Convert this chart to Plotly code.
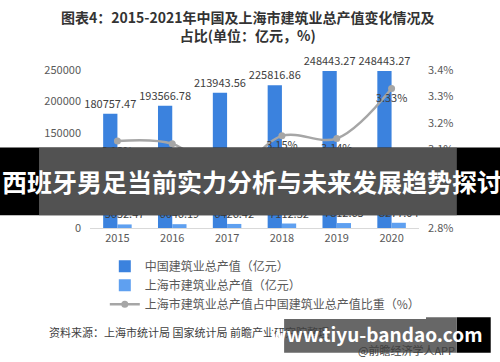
import plotly.graph_objects as go

years = ["2015", "2016", "2017", "2018", "2019", "2020"]
china_values = [180757.47, 193566.78, 213943.56, 225816.86, 248443.27, 248443.27]
shanghai_values = [5652.47, 6046.19, 6426.42, 7112.32, 7812.65, 8277.04]
share_values = [3.13, 3.12, 3.00, 3.15, 3.14, 3.33]

name_china = "中国建筑业总产值（亿元）"
name_sh = "上海市建筑业总产值（亿元）"
name_share = "上海市建筑业总产值占中国建筑业总产值比重（%）"

FONT = "Noto Sans CJK SC"
TXT = "#404040"

fig = go.Figure()
fig.add_trace(go.Bar(
    x=years, y=china_values, name=name_china,
    marker=dict(color="#3B82DE", line=dict(width=0)),
    text=[f"{v:.2f}" for v in china_values], textposition="outside",
    constraintext="none",
    textfont=dict(size=11, color=TXT, family=FONT), cliponaxis=False,
))
fig.add_trace(go.Bar(
    x=years, y=shanghai_values, name=name_sh,
    marker=dict(color="#5FA0F0", line=dict(width=0)),
    text=[f"{v:.2f}" for v in shanghai_values], textposition="outside",
    constraintext="none",
    textfont=dict(size=11, color=TXT, family=FONT), cliponaxis=False,
))
fig.add_trace(go.Scatter(
    x=years, y=share_values, name=name_share, yaxis="y2",
    mode="lines+markers+text",
    line=dict(color="#A6A6A6", width=2.5, shape="spline", smoothing=1.0),
    marker=dict(color="#A6A6A6", size=7),
    text=[f"{v:.2f}%" for v in share_values], textposition="bottom center",
    textfont=dict(size=11, color=TXT, family=FONT), cliponaxis=False,
))

fig.update_layout(
    width=500, height=362,
    margin=dict(l=90, r=81, t=70, b=134),
    paper_bgcolor="white", plot_bgcolor="white",
    font=dict(family=FONT, color="#595959", size=11),
    barmode="group", bargap=0.48, bargroupgap=0,
    showlegend=True,
    legend=dict(orientation="v", x=0.045, xanchor="left", y=-0.15, yanchor="top",
                font=dict(size=12, color="#595959", family=FONT),
                tracegroupgap=2, itemwidth=30),
    xaxis=dict(type="category", showline=True, linecolor="#D9D9D9", linewidth=1,
               ticks="", showgrid=False, tickfont=dict(size=11, color="#595959")),
    yaxis=dict(range=[0, 250000], dtick=50000, tickformat="d", showgrid=False,
               zeroline=False, ticks="", ticklabelstandoff=8,
               tickfont=dict(size=11, color="#595959")),
    yaxis2=dict(range=[2.8, 3.4], dtick=0.1, tickformat=".1f", ticksuffix="%",
                overlaying="y", side="right", showgrid=False, zeroline=False,
                ticks="", ticklabelstandoff=8,
                tickfont=dict(size=11, color="#595959")),
)

# Title
fig.add_annotation(text="<b>图表4：2015-2021年中国及上海市建筑业总产值变化情况及<br>占比(单位：亿元，%)</b>",
                   xref="paper", yref="paper", x=0.5, y=1, xanchor="center", yanchor="bottom",
                   xshift=-7, yshift=23, showarrow=False, align="center",
                   font=dict(size=14, color="#333333", family=FONT))

# Source notes
fig.add_annotation(text="资料来源：上海市统计局 国家统计局 前瞻产业研究院整理",
                   xref="paper", yref="paper", x=-0.13, y=-0.66, xanchor="left", yanchor="middle",
                   showarrow=False, font=dict(size=11, color="#404040", family=FONT))
fig.add_annotation(text="@前瞻经济学人APP",
                   xref="paper", yref="paper", x=0.81, y=-0.77, xanchor="left", yanchor="middle",
                   showarrow=False, font=dict(size=11, color="#404040", family=FONT))

# Overlay banners
fig.add_shape(type="rect", xref="paper", yref="paper", x0=-0.28, x1=1.26, y0=0.08, y1=0.51,
              fillcolor="black", line=dict(width=0), layer="above")
fig.add_shape(type="rect", xref="paper", yref="paper", x0=-0.155, x1=1.115, y0=0.08, y1=0.51,
              fillcolor="rgba(110,110,110,0.75)", line=dict(width=0), layer="above")
fig.add_annotation(text="<b>西班牙男足当前实力分析与未来发展趋势探讨</b>",
                   xref="paper", yref="paper", x=0.491, y=0.295, xanchor="center", yanchor="middle",
                   showarrow=False, font=dict(size=25, color="white", family=FONT))

fig.add_shape(type="rect", xref="paper", yref="paper", x0=1.115, x1=1.218, y0=-0.565, y1=-0.79,
              fillcolor="black", line=dict(width=0), layer="above")
fig.add_shape(type="rect", xref="paper", yref="paper", x0=0.59, x1=1.115, y0=-0.565, y1=-0.79,
              fillcolor="rgba(95,95,95,0.95)", line=dict(width=0), layer="above")
fig.add_annotation(text="<b>www.tiyu-bandao.com</b>",
                   xref="paper", yref="paper", x=0.87, y=-0.665, xanchor="center", yanchor="middle",
                   showarrow=False, font=dict(size=19, color="white", family=FONT))

fig.write_html("out.html")
